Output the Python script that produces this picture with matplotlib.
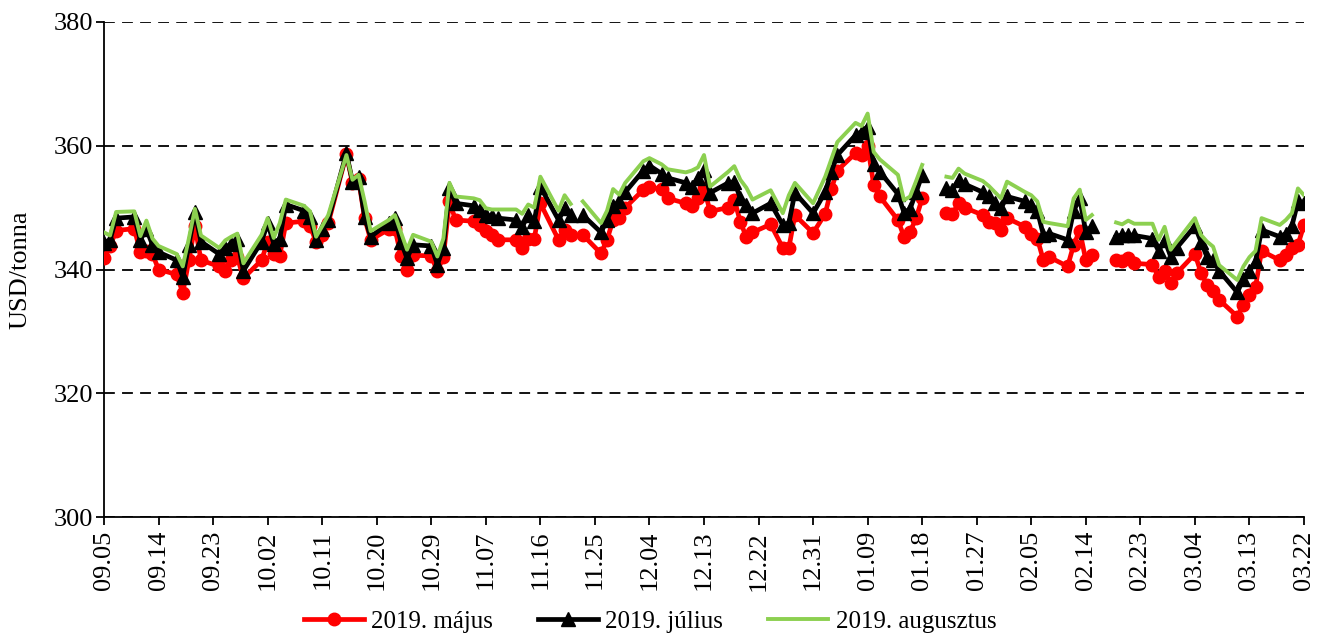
import numpy as np
import pandas as pd
import matplotlib
matplotlib.use("Agg")
import matplotlib.pyplot as plt
import matplotlib.dates as mdates

plt.rcParams['font.family'] = ['Liberation Serif', 'DejaVu Serif']

# trading days (holidays without a row are dropped; holidays kept as empty cells -> NaN)
dates = pd.bdate_range('2018-09-05', '2019-03-22').drop(
    pd.to_datetime(['2018-12-05', '2018-12-25', '2019-01-01']))

nan = np.nan
may = [  # 2019. május
    341.8, 343.8, 346.3, 346.6, 342.8, 343.0, 342.5, 340.0, 339.2, 336.2, 341.5, 347.0, 341.5, 340.5, 339.8, 341.5, 342.0, 338.6,
    341.5, 344.5, 342.5, 342.2, 347.5, 347.8, 347.0, 344.5, 345.5, 347.5, 358.6, 354.0, 354.6, 348.3, 344.8, 346.5, 346.6, 342.2, 340.0, 342.3, 342.2, 339.7, 342.1,
    351.0, 348.0, 347.8, 347.2, 346.2, 345.5, 344.8, 344.8, 343.5, 345.0, 345.0, 350.7, 344.8, 346.4, 345.6, nan, 345.6, 342.6, 344.8, 348.0, 348.3, 350.0,
    352.9, 353.3, 353.0, 351.5, 350.7, 350.2, 351.5, 353.2, 349.4, 350.0, 351.3, 347.7, 345.2, 346.0, 347.3, 343.5, 343.5, 348.8, 345.9,
    349.0, 353.0, 356.0, 358.8, 358.5, 360.0, 353.7, 351.8, 348.0, 345.3, 346.1, 348.3, 351.5, nan, 349.1, 349.0, 350.7, 350.0, 348.8, 347.7, 347.5, 346.4,
    348.3, 346.9, 345.8, 345.0, 341.5, 342.0, 340.5, 344.0, 346.3, 341.5, 342.3, nan, 341.5, 341.3, 341.8, 341.0, 340.8, 338.8, 339.8, 337.8,
    339.4, 342.5, 339.5, 337.5, 336.5, 335.1, 332.4, 334.3, 335.8, 337.2, 343.0, 341.5, 342.3, 343.5, 344.0, 347.2,
]
jul = [  # 2019. július
    344.3, 344.8, 348.3, 348.5, 344.8, 346.5, 344.0, 342.8, 341.5, 338.8, 344.0, 349.3, 344.5, 342.5, 343.5, 344.2, 345.0, 339.8,
    344.5, 347.5, 344.2, 345.0, 350.5, 349.5, 348.5, 344.8, 346.5, 348.0, 358.8, 354.2, 355.0, 348.5, 345.3, 347.5, 348.3, 344.5, 341.8, 344.0, 343.8, 340.8, 343.5,
    353.2, 350.7, 350.3, 349.6, 348.8, 348.6, 348.3, 348.0, 346.9, 348.8, 347.8, 353.4, 348.0, 349.9, 348.8, nan, 348.8, 346.0, 348.0, 350.2, 351.0, 352.5,
    356.0, 356.8, 355.5, 354.8, 354.0, 353.4, 354.8, 356.1, 352.4, 354.0, 354.2, 351.5, 350.5, 349.1, 350.7, 347.2, 347.5, 352.4, 349.1,
    352.5, 355.8, 358.5, 361.7, 362.3, 363.1, 357.0, 355.8, 352.2, 349.2, 349.8, 352.5, 355.3, nan, 353.1, 352.9, 354.5, 353.8, 352.5, 351.8, 350.8, 349.9,
    351.8, 351.0, 350.5, 349.5, 345.6, 345.8, 344.8, 349.5, 351.5, 346.0, 347.0, nan, 345.3, 345.6, 345.6, 345.5, 345.0, 343.0, 344.8, 342.1,
    343.5, 347.0, 344.5, 342.0, 341.5, 339.8, 336.3, 338.5, 339.8, 341.3, 346.4, 345.3, 345.8, 347.0, 351.0, 350.8,
]
aug = [  # 2019. augusztus
    346.0, 345.5, 349.3, 349.4, 345.4, 347.9, 345.0, 343.8, 342.5, 340.5, 345.0, 349.8, 345.5, 343.5, 344.7, 345.3, 345.8, 341.0,
    345.6, 348.3, 345.1, 347.5, 351.3, 350.3, 349.4, 345.3, 347.0, 348.8, 358.5, 354.5, 355.3, 351.0, 346.2, 348.0, 348.8, 346.0, 343.2, 345.6, 344.5, 342.1, 345.0,
    354.0, 351.8, 351.5, 351.2, 349.9, 349.7, 349.7, 349.7, 349.0, 350.5, 350.0, 355.0, 349.5, 352.0, 350.6, nan, 351.0, 347.5, 349.5, 353.0, 352.1, 354.0,
    357.5, 358.0, 357.0, 356.2, 355.7, 356.0, 356.5, 358.5, 353.4, 355.8, 356.7, 354.5, 353.2, 351.3, 352.8, 349.1, 352.0, 354.0, 350.7,
    355.0, 357.8, 360.6, 363.7, 363.2, 365.2, 359.0, 357.8, 355.3, 351.2, 351.8, 354.3, 356.9, nan, 355.0, 354.8, 356.3, 355.5, 354.3, 353.5, 352.5, 351.5,
    354.2, 352.5, 352.0, 351.0, 347.7, 347.5, 347.0, 351.5, 352.9, 348.0, 348.8, nan, 347.6, 347.3, 347.9, 347.4, 347.4, 344.8, 346.9, 343.2,
    344.5, 348.3, 345.6, 344.5, 343.7, 340.7, 338.3, 340.5, 342.0, 343.0, 348.3, 347.2, 348.0, 349.1, 353.1, 352.0,
]
series_names = ['2019. május', '2019. július', '2019. augusztus']
tick_dates = pd.date_range('2018-09-05', '2019-03-22', freq='9D')
y_ticks = [300, 320, 340, 360, 380]

fig = plt.figure(figsize=(13.18, 6.37), dpi=100)
ax = fig.add_axes([104 / 1318, 1 - 517 / 637, 1200 / 1318, 495 / 637])

ax.plot(dates, may, color='#ff0000', lw=3.4, marker='o', ms=9, label=series_names[0], zorder=3)
ax.plot(dates, jul, color='#000000', lw=3.4, marker='^', ms=9.5, label=series_names[1], zorder=4)
ax.plot(dates, aug, color='#8cd050', lw=2.8, label=series_names[2], zorder=5)

ax.set_ylim(300, 380)
ax.set_yticks(y_ticks)
ax.set_xlim(tick_dates[0], tick_dates[-1])
ax.set_xticks(tick_dates)
ax.xaxis.set_major_formatter(mdates.DateFormatter('%m.%d'))
for lab in ax.get_xticklabels():
    lab.set_rotation(90)

ax.yaxis.grid(True, color='black', linestyle=(0, (6, 4)), lw=1.3)
ax.set_axisbelow(True)
for s in ['top', 'right']:
    ax.spines[s].set_visible(False)
for s in ['left', 'bottom']:
    ax.spines[s].set_linewidth(1.3)
ax.tick_params(axis='both', direction='out', length=6, width=1.3, labelsize=19)
ax.tick_params(axis='y', pad=2)
ax.tick_params(axis='x', pad=4)
ax.set_ylabel('USD/tonna', fontsize=19, labelpad=16)

ax.legend(loc='center', bbox_to_anchor=(546 / 1200, -0.212), ncol=3, frameon=False,
          fontsize=18, handlelength=2.4, columnspacing=1.8, handletextpad=0.3)

fig.savefig('out.png', dpi=100)
